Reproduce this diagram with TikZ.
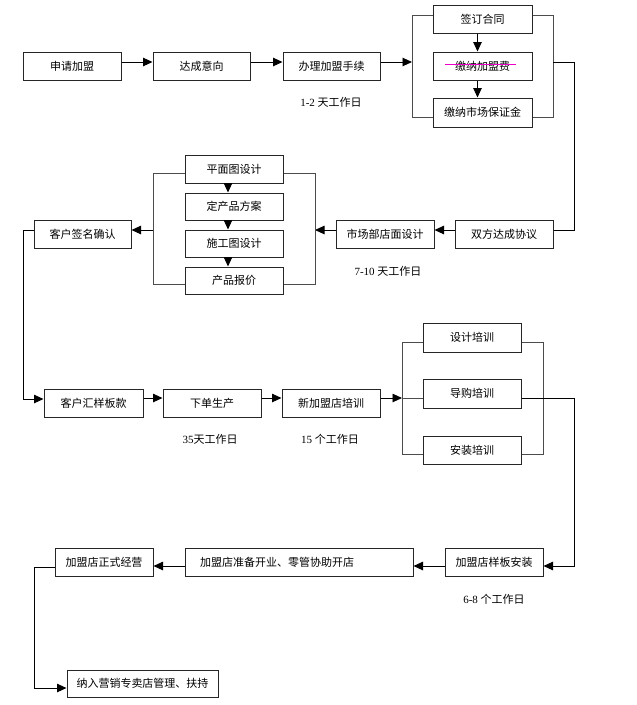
\documentclass[tikz,border=0pt]{standalone}
\usepackage{fontspec}
\setmainfont{Liberation Serif}
\newfontfamily\cjk{Noto Sans CJK SC}
\usetikzlibrary{arrows.meta,calc}
\definecolor{strike}{RGB}{235,0,200}
\tikzset{
  box/.style={draw=black!85, line width=1pt, minimum height=28pt, minimum width=98pt, inner sep=0pt, font=\cjk\fontsize{11}{12}\selectfont},
  conn/.style={draw=black, line width=0.9pt},
  arr/.style={conn, -{Triangle[length=9.5pt,width=8.5pt]}},
  brk/.style={draw=black!70, line width=0.9pt},
  lbl/.style={inner sep=0pt, font=\fontsize{11}{12}\selectfont},
}
\begin{document}
\begin{tikzpicture}[x=1pt,y=-1pt]
\useasboundingbox (0,0) rectangle (637,705);
% Row 1
\node[box] (a1) at (72,66) {申请加盟};
\node[box, minimum width=97pt] (a2) at (201.5,66) {达成意向};
\node[box, minimum width=97pt] (a3) at (331.5,66) {办理加盟手续};
\node[box, minimum width=99pt] (b1) at (482.5,19) {签订合同};
\node[box, minimum width=99pt] (b2) at (482.5,66) {缴纳加盟费};
\node[box, minimum width=99pt, minimum height=29pt] (b3) at (482.5,112.5) {缴纳市场保证金};
\coordinate (bl) at (412,62);
\coordinate (br) at (553,62);
\coordinate (bo) at (574,62);
\draw[arr] ($(a1.east)+(0,-4)$) -- ($(a2.west)+(0,-4)$);
\draw[arr] ($(a2.east)+(0,-4)$) -- ($(a3.west)+(0,-4)$);
\draw[arr] ($(a3.east)+(0,-4)$) -- (bl);
\draw[brk] (b1.west |- 0,15) -- (412,15) -- (412,117) -- (b3.west |- 0,117);
\draw[brk] (b1.east |- 0,15) -- (553,15) -- (553,117) -- (b3.east |- 0,117);
\draw[arr] (b1.south -| 477.5,0) -- (b2.north -| 477.5,0);
\draw[arr] (b2.south -| 477.5,0) -- (b3.north -| 477.5,0);
\draw[strike, line width=0.9pt] (445,64) -- (516,64);
\node[lbl] (t1) at (331,102) {1-2 {\cjk 天工作日}};
% Row 2
\node[box] (c1) at (504,234) {双方达成协议};
\node[box] (c2) at (385,234) {市场部店面设计};
\node[box] (d1) at (234,169) {平面图设计};
\node[box, minimum height=27pt] (d2) at (234,206.5) {定产品方案};
\node[box, minimum height=27pt] (d3) at (234,243.5) {施工图设计};
\node[box, minimum height=27pt] (d4) at (234,280.5) {产品报价};
\node[box, minimum width=97pt] (c3) at (82.5,234) {客户签名确认};
\draw[conn] (br) -- (bo) -- (574,230) -- ($(c1.east)+(0,-4)$);
\draw[arr] ($(c1.west)+(0,-4)$) -- ($(c2.east)+(0,-4)$);
\coordinate (dr) at (315,230);
\coordinate (dl) at (153,230);
\draw[arr] ($(c2.west)+(0,-4)$) -- (dr);
\draw[brk] (d1.east |- 0,173) -- (315,173) -- (315,284) -- (d4.east |- 0,284);
\draw[brk] (d1.west |- 0,173) -- (153,173) -- (153,284) -- (d4.west |- 0,284);
\draw[arr] (dl) -- ($(c3.east)+(0,-4)$);
\draw[arr] (d1.south -| 228,0) -- (d2.north -| 228,0);
\draw[arr] (d2.south -| 228,0) -- (d3.north -| 228,0);
\draw[arr] (d3.south -| 228,0) -- (d4.north -| 228,0);
\node[lbl] (t2) at (388,271) {7-10 {\cjk 天工作日}};
% Row 3
\node[box, minimum width=99pt] (e1) at (93.5,403) {客户汇样板款};
\node[box] (e2) at (212,403) {下单生产};
\node[box] (e3) at (331,403) {新加盟店培训};
\node[box, minimum height=29pt] (f1) at (472,337.5) {设计培训};
\node[box, minimum height=29pt] (f2) at (472,393.5) {导购培训};
\node[box] (f3) at (472,450) {安装培训};
\draw[arr] ($(c3.west)+(0,-4)$) -- (23,230) -- (23,399) -- ($(e1.west)+(0,-4)$);
\draw[arr] ($(e1.east)+(0,-5)$) -- ($(e2.west)+(0,-5)$);
\draw[arr] ($(e2.east)+(0,-5)$) -- ($(e3.west)+(0,-5)$);
\coordinate (fl) at (402,398);
\draw[arr] ($(e3.east)+(0,-5)$) -- (fl);
\draw[brk] (f1.west |- 0,342) -- (402,342) -- (402,454) -- (f3.west |- 0,454);
\draw[brk] (f1.east |- 0,342) -- (543,342) -- (543,454) -- (f3.east |- 0,454);
\draw[brk] (fl) -- ($(f2.west)+(0,4.5)$);
\node[lbl] (t3) at (210,439) {35{\cjk 天工作日}};
\node[lbl] (t4) at (330,439) {15 {\cjk 个工作日}};
% Row 4
\node[box] (g1) at (494,562) {加盟店样板安装};
\node[box, minimum width=228pt] (g2) at (299,562) {};
\node[anchor=west, inner sep=0pt, font=\cjk\fontsize{11}{12}\selectfont] (g2t) at (200,562) {加盟店准备开业、零管协助开店};
\node[box] (g3) at (104,562) {加盟店正式经营};
\node[box, minimum width=151pt, minimum height=27pt] (h1) at (142.5,683.5) {纳入营销专卖店管理、扶持};
\draw[arr] ($(f2.east)+(0,4.5)$) -- (574,398) -- (574,566) -- ($(g1.east)+(0,4)$);
\draw[arr] ($(g1.west)+(0,4)$) -- ($(g2.east)+(0,4)$);
\draw[arr] ($(g2.west)+(0,4)$) -- ($(g3.east)+(0,4)$);
\draw[arr] ($(g3.west)+(0,5)$) -- (34,567) -- (34,688) -- ($(h1.west)+(0,4.5)$);
\node[lbl] (t5) at (494,599) {6-8 {\cjk 个工作日}};
\end{tikzpicture}
\end{document}
